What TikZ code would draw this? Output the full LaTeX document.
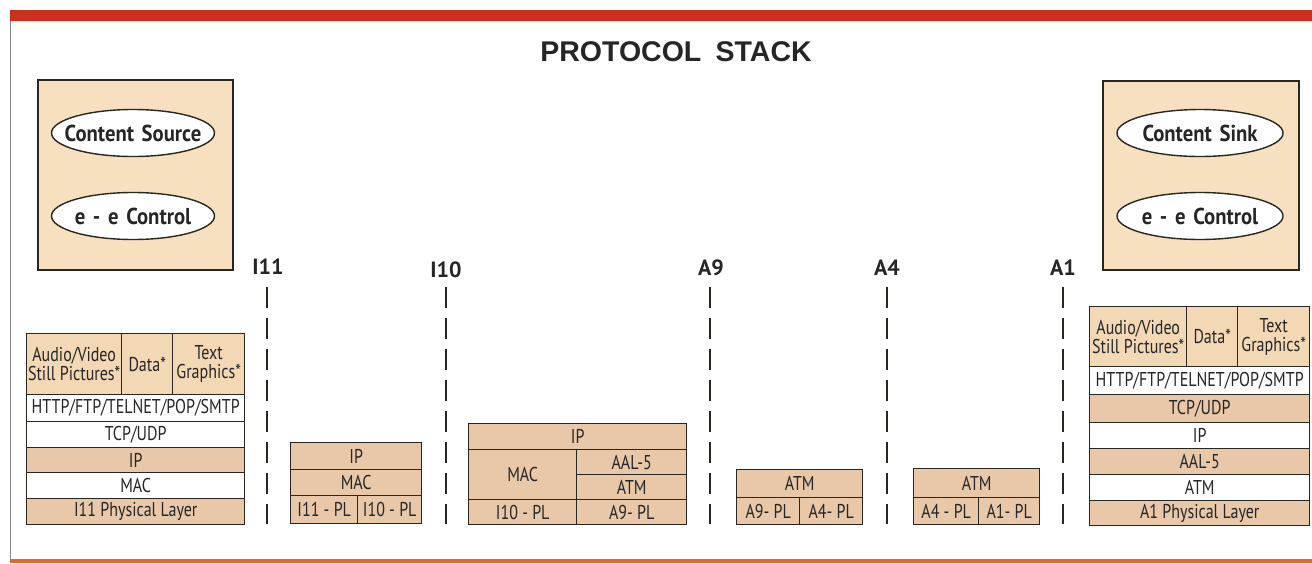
\documentclass[tikz,border=0pt]{standalone}
\usepackage{fontspec}
\usetikzlibrary{shapes.geometric}
\newfontfamily\stackfont{PT Sans}[FakeStretch=0.8]
\newfontfamily\ovalfont{PT Sans}[FakeStretch=0.9]
\newfontfamily\labfont{PT Sans}
\newfontfamily\titlefont{Liberation Sans}
\definecolor{barred}{HTML}{C8321C}
\definecolor{barorange}{HTML}{E06A28}
\definecolor{peach}{HTML}{F6E0BF}
\definecolor{tanc}{HTML}{E8C8A9}
\definecolor{lighttan}{HTML}{F2D8B4}
\definecolor{linec}{HTML}{2A2620}
\definecolor{graybar}{HTML}{8A8A8A}
\definecolor{txt}{HTML}{262626}
\tikzset{
  cell/.style={draw=linec, line width=1.4pt, inner sep=0pt, anchor=north west,
    font=\stackfont\fontsize{20}{19}\selectfont, text=txt, align=center},
  tancell/.style={cell, fill=tanc},
  whitecell/.style={cell, fill=white},
  topcell/.style={cell, fill=lighttan},
  outerbox/.style={draw=linec, line width=1.6pt, fill=peach, anchor=north west, inner sep=0pt},
  oval/.style={ellipse, draw=linec, line width=1.4pt, fill=white, minimum width=163pt,
    minimum height=47pt, inner sep=0pt, text=txt, text width=0pt, align=center,
    font=\ovalfont\bfseries\fontsize{23}{24}\selectfont},
  ifc/.style={font=\labfont\bfseries\fontsize{22}{24}\selectfont, inner sep=0pt, text=txt},
  dline/.style={draw=linec, line width=1.8pt, dash pattern=on 21pt off 10pt}
}
\newcommand{\ovaltext}[1]{\makebox[0pt][c]{#1}}
\begin{document}
\begin{tikzpicture}[x=1pt,y=-1pt]
\useasboundingbox (0,0) rectangle (1312,563);
\fill[white] (0,0) rectangle (1312,563);
% frame bars
\fill[barred] (10,10) rectangle (1312,21);
\fill[barorange] (10,559) rectangle (1312,563);
\draw[graybar, line width=1.2pt] (10.6,21) -- (10.6,559);
% title
\node[font=\titlefont\bfseries\fontsize{28.5}{30}\selectfont, text=txt] (title) at (676,52) {PROTOCOL\hspace{0.5em}STACK};
% top boxes
\node[outerbox, minimum width=195pt, minimum height=190pt] (srcbox) at (37,79) {};
\node[oval] (src) at (133,133) {\ovaltext{Content Source}};
\node[oval] (srcctl) at (133,216) {\ovaltext{e - e Control}};
\node[outerbox, minimum width=196pt, minimum height=189pt] (sinkbox) at (1102,80) {};
\node[oval, minimum width=166pt] (sink) at (1200,133) {\ovaltext{Content Sink}};
\node[oval, minimum width=166pt] (sinkctl) at (1200,216) {\ovaltext{e - e Control}};
% left stack
\node[topcell, minimum width=95pt, minimum height=61pt] (la) at (26,333) {Audio/Video\\Still Pictures*};
\node[topcell, minimum width=51pt, minimum height=61pt] (lb) at (121,333) {Data*};
\node[topcell, minimum width=72pt, minimum height=61pt] (lc) at (172,333) {Text\\Graphics*};
\node[whitecell, minimum width=218pt, minimum height=27pt] (lhttp) at (26,394) {HTTP/FTP/TELNET/POP/SMTP};
\node[whitecell, minimum width=218pt, minimum height=26pt] (ltcp) at (26,421) {TCP/UDP};
\node[tancell, minimum width=218pt, minimum height=25pt] (lip) at (26,447) {IP};
\node[whitecell, minimum width=218pt, minimum height=26pt] (lmac) at (26,472) {MAC};
\node[tancell, minimum width=218pt, minimum height=26pt] (lpl) at (26,498) {I11 Physical Layer};
% right stack
\node[topcell, minimum width=97pt, minimum height=60pt] (ra) at (1089,306) {Audio/Video\\Still Pictures*};
\node[topcell, minimum width=51pt, minimum height=60pt] (rb) at (1186,306) {Data*};
\node[topcell, minimum width=72pt, minimum height=60pt] (rc) at (1237,306) {Text\\Graphics*};
\node[whitecell, minimum width=220pt, minimum height=28pt] (rhttp) at (1089,366) {HTTP/FTP/TELNET/POP/SMTP};
\node[tancell, minimum width=220pt, minimum height=28pt] (rtcp) at (1089,394) {TCP/UDP};
\node[whitecell, minimum width=220pt, minimum height=26pt] (rip) at (1089,422) {IP};
\node[tancell, minimum width=220pt, minimum height=26pt] (raal) at (1089,448) {AAL-5};
\node[whitecell, minimum width=220pt, minimum height=26pt] (ratm) at (1089,474) {ATM};
\node[tancell, minimum width=220pt, minimum height=25pt] (rpl) at (1089,500) {A1 Physical Layer};
% middle stack 1
\node[tancell, minimum width=131pt, minimum height=27pt] (m1ip) at (290,442) {IP};
\node[tancell, minimum width=131pt, minimum height=26pt] (m1mac) at (290,469) {MAC};
\node[tancell, minimum width=67pt, minimum height=28pt] (m1pla) at (290,495) {I11 - PL};
\node[tancell, minimum width=64pt, minimum height=28pt] (m1plb) at (357,495) {I10 - PL};
% middle stack 2
\node[tancell, minimum width=218pt, minimum height=26pt] (m2ip) at (468,423) {IP};
\node[tancell, minimum width=108pt, minimum height=50pt] (m2mac) at (468,449) {MAC};
\node[tancell, minimum width=110pt, minimum height=25pt] (m2aal) at (576,449) {AAL-5};
\node[tancell, minimum width=110pt, minimum height=25pt] (m2atm) at (576,474) {ATM};
\node[tancell, minimum width=108pt, minimum height=25pt] (m2pla) at (468,499) {I10 - PL};
\node[tancell, minimum width=110pt, minimum height=25pt] (m2plb) at (576,499) {A9- PL};
% middle stack 3
\node[tancell, minimum width=126pt, minimum height=28pt] (m3atm) at (736,469) {ATM};
\node[tancell, minimum width=63pt, minimum height=27pt] (m3pla) at (736,497) {A9- PL};
\node[tancell, minimum width=63pt, minimum height=27pt] (m3plb) at (799,497) {A4- PL};
% middle stack 4
\node[tancell, minimum width=126pt, minimum height=29pt] (m4atm) at (913,468) {ATM};
\node[tancell, minimum width=65pt, minimum height=27pt] (m4pla) at (913,497) {A4 - PL};
\node[tancell, minimum width=61pt, minimum height=27pt] (m4plb) at (978,497) {A1- PL};
% interfaces
\node[ifc] (i11) at (268,267) {I11};
\node[ifc] (i10) at (446,270) {I10};
\node[ifc] (a9) at (711,268) {A9};
\node[ifc] (a4) at (887,268) {A4};
\node[ifc] (a1) at (1063,268) {A1};
\foreach \n/\x in {i11/267,i10/446,a9/710,a4/887,a1/1063}{
  \coordinate (\n t) at (\x,287);
  \coordinate (\n b) at (\x,524);
  \draw[dline] (\n t) -- (\n b);
}
\end{tikzpicture}
\end{document}
